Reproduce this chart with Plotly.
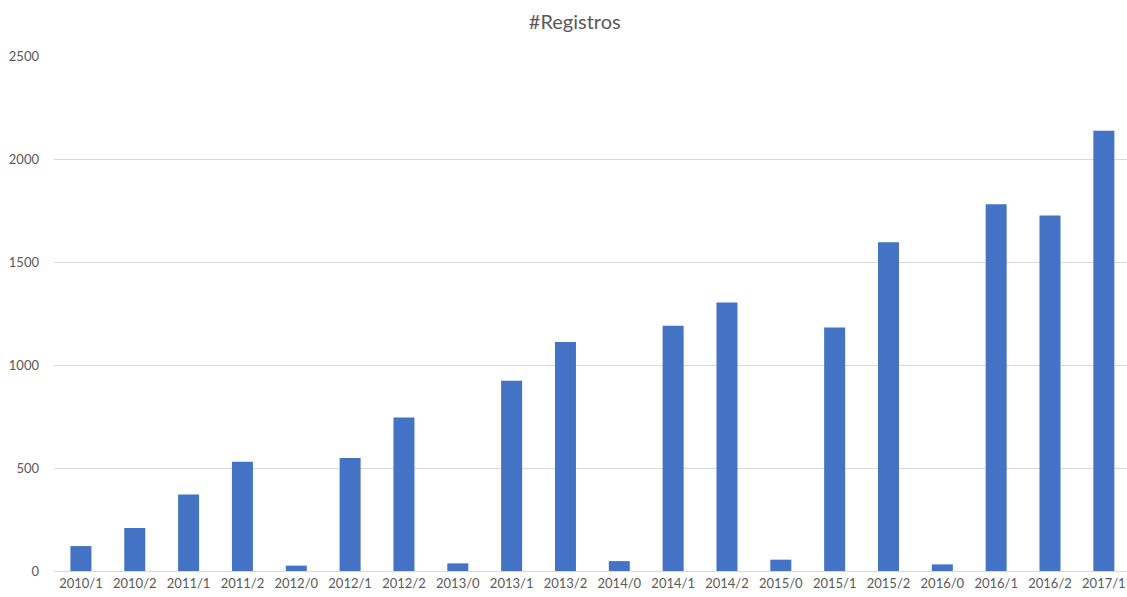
import plotly.graph_objects as go

categories = ["2010/1", "2010/2", "2011/1", "2011/2", "2012/0", "2012/1", "2012/2",
              "2013/0", "2013/1", "2013/2", "2014/0", "2014/1", "2014/2", "2015/0",
              "2015/1", "2015/2", "2016/0", "2016/1", "2016/2", "2017/1"]
registros = [121, 209, 371, 530, 26, 548, 745,
             37, 924, 1112, 48, 1190, 1304, 55,
             1182, 1596, 32, 1780, 1726, 2137]
y_ticks = [0, 500, 1000, 1500, 2000, 2500]

fig = go.Figure(go.Bar(x=categories, y=registros, marker=dict(color="#4472C4", line=dict(width=0))))

fig.update_layout(
    width=1127, height=597,
    margin=dict(l=54, r=0, t=56, b=26),
    paper_bgcolor="white", plot_bgcolor="white",
    bargap=0.61,
    showlegend=False,
    title=dict(text="#Registros", x=0.51, xanchor="center", y=0.963, yanchor="middle",
               font=dict(family="Lato, Open Sans, sans-serif", size=20, color="#595959")),
    font=dict(family="Lato, Open Sans, sans-serif", size=13, color="#595959"),
)
fig.update_xaxes(showgrid=False, showline=True, linecolor="#D9D9D9", linewidth=1,
                 ticks="", tickfont=dict(size=13, color="#595959"), tickangle=0,
                 range=[-0.5, 19.43])
fig.update_yaxes(range=[0, 2500], tickvals=y_ticks, showgrid=True, gridcolor="#D9D9D9",
                 gridwidth=1, zeroline=False, showline=False, ticks="",
                 tickfont=dict(size=13, color="#595959"), ticklabelstandoff=14)

fig.write_html("out.html")
